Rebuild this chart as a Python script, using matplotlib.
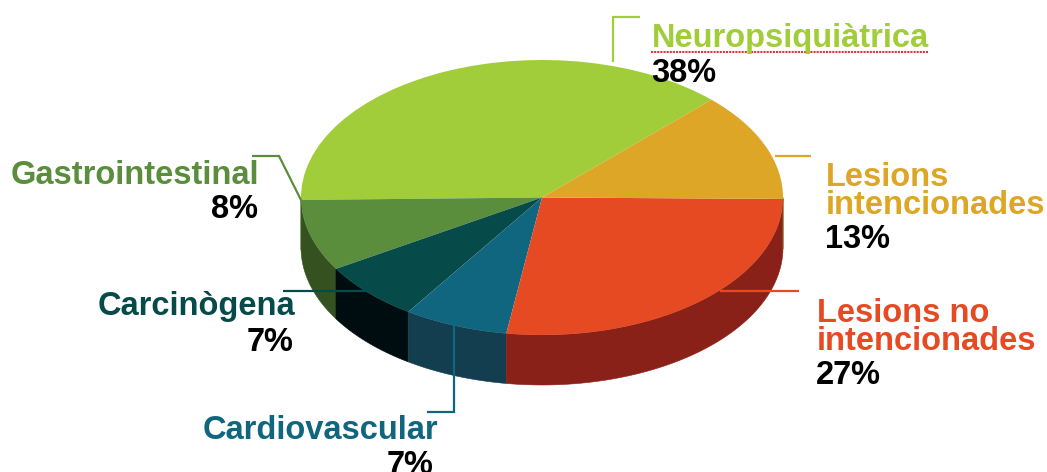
import matplotlib
matplotlib.use("Agg")
import matplotlib.pyplot as plt
import numpy as np

# counter-clockwise from the start angle
categories = ["Neuropsiquiàtrica", "Gastrointestinal", "Carcinògena", "Cardiovascular",
              "Lesions no\nintencionades", "Lesions\nintencionades"]
percents = [37.7, 8.4, 6.95, 7.0, 27.2, 12.75]
top_colors = ["#a0cd39", "#5a8d3c", "#064b49", "#10667f", "#e64a22", "#dda627"]
wall_colors = ["#5f7a22", "#34511f", "#000d10", "#123e4f", "#8a2119", "#84631a"]

W, H = 1047, 472
CX, CY, RX, RY = 542, 197.5, 241, 137.5
DEPTH = 50 / RY
START = 45.3

plt.rcParams["font.family"] = ["Liberation Sans", "DejaVu Sans"]
fig = plt.figure(figsize=(W / 100, H / 100), dpi=100, facecolor="white")

ax = fig.add_axes([0, 0, 1, 1])
edges = START + np.concatenate([[0], np.cumsum(percents)]) * 3.6

# side wall, only the front half of the rim shows
for i, c in enumerate(wall_colors):
    a0, a1 = max(edges[i], 180), min(edges[i + 1], 360)
    if a1 <= a0:
        continue
    t = np.radians(np.linspace(a0, a1, 80))
    xs = np.concatenate([np.cos(t), np.cos(t[::-1])])
    ys = np.concatenate([np.sin(t), np.sin(t[::-1]) - DEPTH])
    ax.fill(xs, ys, color=c, lw=0.4, zorder=0.5)

ax.pie(percents, colors=top_colors, startangle=START, counterclock=True, radius=1)
ax.set_aspect("auto")
ax.set_xlim(-CX / RX, (W - CX) / RX)
ax.set_ylim((CY - H) / RY, CY / RY)
ax.axis("off")

# overlay in pixel coords for labels and leader lines
ov = fig.add_axes([0, 0, 1, 1], facecolor="none")
ov.set_xlim(0, W)
ov.set_ylim(H, 0)
ov.axis("off")

leaders = {
    0: ([613, 613, 640], [62, 17, 17]),
    1: ([302, 279, 252], [202, 156, 156]),
    2: ([367, 283], [291, 291]),
    3: ([454, 454, 427], [325, 412, 412]),
    4: ([720, 799], [291, 291]),
    5: ([775, 811], [156, 156]),
}
for i, (lx, ly) in leaders.items():
    ov.plot(lx, ly, color=top_colors[i], lw=1.6, solid_joinstyle="miter", solid_capstyle="butt")

FS = 23.5
# x of name, x of percent, baseline of name, baseline of percent, alignment
label_pos = {
    0: (652, 651, 47, 82, "left"),
    1: (259, 258, 184, 218, "right"),
    2: (295, 294, 315, 351, "right"),
    3: (438, 433, 439, 474, "right"),
    4: (817, 816, 322, 384, "left"),
    5: (826, 825, 186, 248, "left"),
}
for i, (x, xp, yn, yp, ha) in label_pos.items():
    lines = categories[i].split("\n")
    for j, line in enumerate(lines):
        ov.text(x, yn + j * 28, line, color=top_colors[i], fontsize=FS, fontweight="bold",
                ha=ha, va="baseline")
    ov.text(xp, yp, f"{percents[i]:.0f}%", color="black", fontsize=FS,
            fontweight="bold", ha=ha, va="baseline")

# spell-check squiggle under the first label
ov.plot([651, 928], [52, 52], color="#e8323c", lw=1.5, ls=(0, (1, 0.5)))

fig.savefig("out.png", dpi=100)
